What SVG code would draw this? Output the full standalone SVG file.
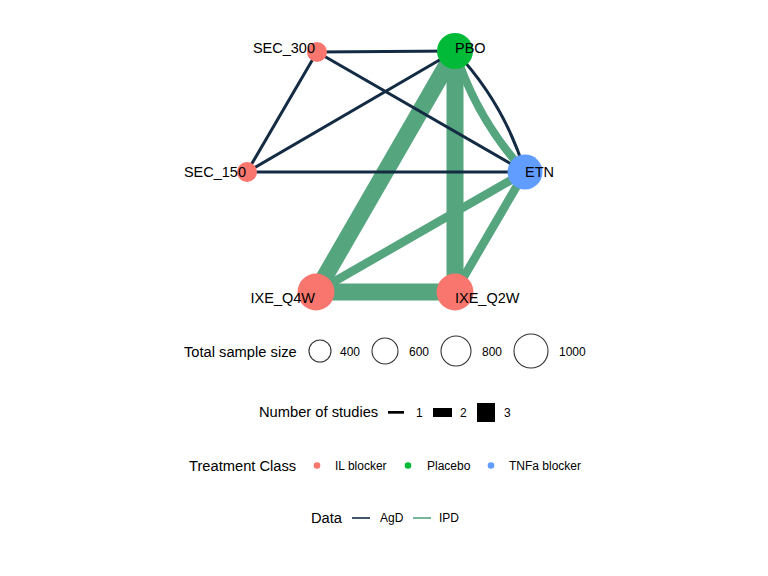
<svg xmlns="http://www.w3.org/2000/svg" width="768" height="576" viewBox="0 0 768 576">
<style>
.agd{stroke:#132B43;stroke-width:3;fill:none}
.ipd{stroke:#55A57F;fill:none}
.il{fill:#F8766D}
.pbo{fill:#00BA38}
.tnf{fill:#619CFF}
.lab{font-family:"Liberation Sans",Arial,sans-serif;font-size:14.5px;fill:#000}
.ttl{font-family:"Liberation Sans",Arial,sans-serif;font-size:14.7px;fill:#000}
.lg{font-family:"Liberation Sans",Arial,sans-serif;font-size:12px;fill:#000}
.ring{fill:none;stroke:#333;stroke-width:1.1}
</style>
<rect width="768" height="576" fill="#fff"/>
<g id="connectors">
<line class="ipd" stroke-width="17" x1="455" y1="51" x2="316" y2="292"/>
<line class="ipd" stroke-width="17" x1="455" y1="51" x2="455" y2="292"/>
<line class="ipd" stroke-width="17" x1="316" y1="292" x2="455" y2="292"/>
<path class="ipd" stroke-width="8" d="M455,51 Q476.6,119.5 525,172"/>
<line class="ipd" stroke-width="8.5" x1="525" y1="172" x2="316" y2="292"/>
<line class="ipd" stroke-width="8.5" x1="525" y1="172" x2="455" y2="292"/>
<line class="agd" x1="317" y1="52" x2="455" y2="51"/>
<line class="agd" x1="317" y1="52" x2="525" y2="172"/>
<line class="agd" x1="317" y1="52" x2="247" y2="172"/>
<line class="agd" x1="247" y1="172" x2="455" y2="51"/>
<line class="agd" x1="247" y1="172" x2="525" y2="172"/>
<path class="agd" d="M455,51 Q504.4,103.5 525,172"/>
</g>
<g id="node-SEC_300"><circle class="il" cx="317" cy="52" r="10"/><text class="lab" x="315" y="52.5" text-anchor="end">SEC_300</text></g>
<g id="node-SEC_150"><circle class="il" cx="247" cy="172" r="10"/><text class="lab" x="246" y="177" text-anchor="end">SEC_150</text></g>
<g id="node-PBO"><circle class="pbo" cx="455" cy="51" r="18"/><text class="lab" x="455" y="52.5">PBO</text></g>
<g id="node-ETN"><circle class="tnf" cx="525" cy="172" r="17.5"/><text class="lab" x="525" y="177">ETN</text></g>
<g id="node-IXE_Q4W"><circle class="il" cx="316" cy="292" r="18.5"/><text class="lab" x="315" y="302.5" text-anchor="end">IXE_Q4W</text></g>
<g id="node-IXE_Q2W"><circle class="il" cx="455" cy="292" r="18.5"/><text class="lab" x="455" y="302.5">IXE_Q2W</text></g>
<g id="legend-size">
<text class="ttl" x="184" y="357">Total sample size</text>
<circle class="ring" cx="320" cy="351" r="11"/><text class="lg" x="340" y="356">400</text>
<circle class="ring" cx="385" cy="351" r="13"/><text class="lg" x="409" y="356">600</text>
<circle class="ring" cx="456" cy="351" r="15"/><text class="lg" x="482" y="356">800</text>
<circle class="ring" cx="531" cy="351" r="17"/><text class="lg" x="559" y="356">1000</text>
</g>
<g id="legend-studies">
<text class="ttl" x="259" y="417">Number of studies</text>
<rect x="388" y="411" width="16" height="2.7" fill="#000"/><text class="lg" x="416" y="417">1</text>
<rect x="433" y="408" width="19" height="9" fill="#000"/><text class="lg" x="460" y="417">2</text>
<rect x="477" y="403" width="18" height="19" fill="#000"/><text class="lg" x="504" y="417">3</text>
</g>
<g id="legend-class">
<text class="ttl" x="189" y="471">Treatment Class</text>
<circle class="il" cx="317" cy="465.5" r="3.3"/><text class="lg" x="335" y="470">IL blocker</text>
<circle class="pbo" cx="408" cy="465.5" r="3.3"/><text class="lg" x="427" y="470">Placebo</text>
<circle class="tnf" cx="491" cy="465.5" r="3.3"/><text class="lg" x="509" y="470">TNFa blocker</text>
</g>
<g id="legend-data">
<text class="ttl" x="311" y="523">Data</text>
<line x1="352" y1="518" x2="370" y2="518" stroke="#132B43" stroke-width="1.6"/><text class="lg" x="380" y="522">AgD</text>
<line x1="413" y1="518" x2="431" y2="518" stroke="#55A57F" stroke-width="1.6"/><text class="lg" x="439" y="522">IPD</text>
</g>
</svg>
